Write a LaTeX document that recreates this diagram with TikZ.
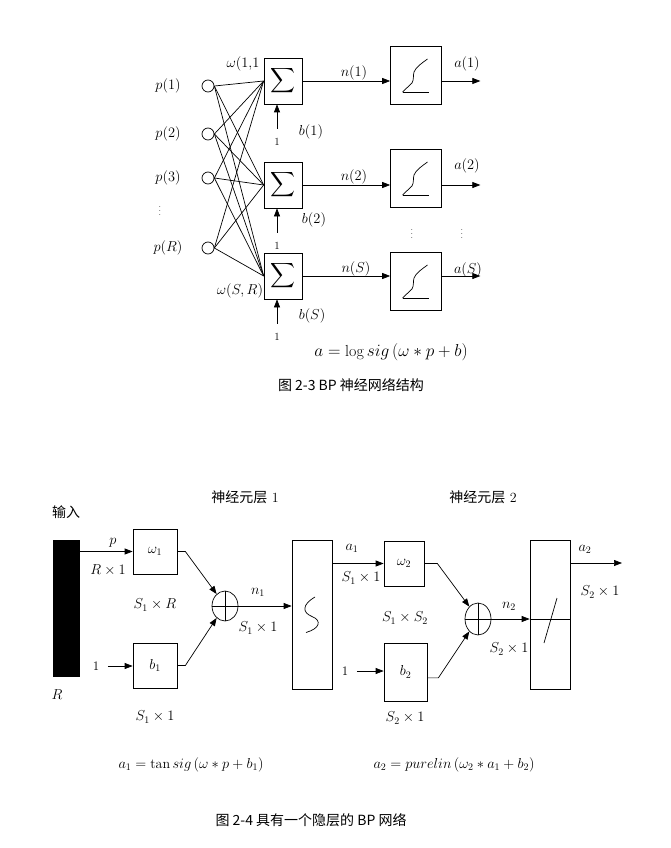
\documentclass[tikz,border=0pt]{standalone}
\usepackage{amsmath}
\usepackage{fontspec}
\newfontfamily\cjk{Noto Sans CJK SC}
\usetikzlibrary{arrows.meta, shapes.geometric, positioning, calc}

\begin{document}
\begin{tikzpicture}[
  x=1pt, y=-1pt,
  line width=0.7pt,
  every node/.style={font=\fontsize{14}{16}\selectfont},
  toplab/.style={font=\fontsize{15}{17}\selectfont},
  arr/.style={-{Triangle[length=8pt,width=6pt]}},
  incircle/.style={circle, draw, minimum size=12pt, inner sep=0pt},
  sumbox/.style={draw, minimum width=38pt, minimum height=46pt, inner sep=0pt,
    font=\fontsize{17}{19}\selectfont},
  fbox/.style={draw, minimum width=51pt, minimum height=58pt},
  wbox/.style={draw, minimum width=#1, inner sep=0pt},
  tallbox/.style={draw, minimum width=40pt, minimum height=149pt},
  plusnode/.style={ellipse, draw, minimum width=26pt, minimum height=30pt, inner sep=0pt},
  smalltxt/.style={font=\fontsize{11}{12}\selectfont, inner sep=0pt},
  dotstxt/.style={font=\fontsize{9}{10}\selectfont, inner sep=0pt},
  captext/.style={font=\cjk\fontsize{14}{16}\selectfont},
  eqtxt/.style={font=\fontsize{16}{18}\selectfont},
  eqlow/.style={font=\fontsize{14}{16}\selectfont}
]
\useasboundingbox (0,0) rectangle (670,848);

% BP network, one layer
\foreach \i/\y in {1/86, 2/134, 3/178, R/248} {
  \node[incircle] (p\i) at (208,\y) {};
  \node[toplab] (pl\i) at (168,\y) {$p(\i)$};
}
\node[dotstxt] (pdots) at (160,208) {$\vdots$};

\foreach \j/\ys/\yf/\yo in {1/81/75/142, 2/185/178/246, S/276/281/337} {
  \node[sumbox] (s\j) at (283,\ys) {$\displaystyle\sum$};
  \node[fbox] (f\j) at (416,\yf) {};
  \node[smalltxt] (one\j) at (277,\yo) {1};
  \draw[arr] (one\j.north) ++(0,-9) -- (one\j |- s\j.south);
  \draw[arr] (s\j.east) -- (s\j.east -| f\j.west);
  \path (s\j.east) ++(178,0) coordinate (o\j);
  \draw[arr] (f\j.east |- o\j) -- (o\j);
  \begin{scope}[shift={(f\j.center)}]
    \draw (-13.5,17) -- (13,17);
    \draw (-13.5,17) -- (-4,8) .. controls (-2,5) and (-3,0) .. (-2,-3)
      .. controls (0,-8) and (6,-12) .. (11.5,-16);
  \end{scope}
}
\foreach \i in {1,2,3,R}
  \foreach \j in {1,2,S}
    \draw (p\i.east) -- (s\j.west);

\node[toplab] (w11) at (243,64) {$\omega(1{,}1$};
\node[toplab] (wSR) at (240,291) {$\omega(S,R)$};
\node[toplab] (bl1) at (311,132) {$b(1)$};
\node[toplab] (bl2) at (314,220) {$b(2)$};
\node[toplab] (blS) at (312,316) {$b(S)$};
\node[toplab] (n1) at (354,73) {$n(1)$};
\node[toplab] (n2) at (354,177) {$n(2)$};
\node[toplab] (nS) at (356,269) {$n(S)$};
\node[toplab] (a1) at (467,64) {$a(1)$};
\node[toplab] (a2) at (467,166) {$a(2)$};
\node[toplab] (aS) at (468,270) {$a(S)$};
\node[dotstxt] (d1) at (412,231) {$\vdots$};
\node[dotstxt] (d2) at (462,231) {$\vdots$};

\node[eqtxt] (eqtop) at (391,352) {$a=\log sig\left(\omega*p+b\right)$};
\node[captext] (cap3) at (351,385) {图 2-3 BP 神经网络结构};

% BP network with one hidden layer
\node[captext] (inlab) at (66,512) {输入};
\node (layer1) at (245,497) {{\cjk 神经元层} 1};
\node (layer2) at (483,497) {{\cjk 神经元层} 2};

\node[fill=black, minimum width=27pt, minimum height=137pt, inner sep=0pt] (bar) at (66.5,608.5) {};
\node[wbox=44pt, minimum height=45pt] (w1) at (155,551.5) {$\omega_1$};
\node[wbox=44pt, minimum height=45pt] (b1) at (155,665.5) {$b_1$};
\node[plusnode] (sum1) at (225,606) {};
\node[tallbox] (t1) at (312,614.5) {};
\node[wbox=40pt, minimum height=45pt] (w2) at (404,563.5) {$\omega_2$};
\node[wbox=43pt, minimum height=58pt] (b2) at (405.5,672) {$b_2$};
\node[plusnode, minimum height=32pt] (sum2) at (478,619) {};
\node[tallbox] (pl) at (550,614.5) {};
\node[font=\fontsize{13}{15}\selectfont] (in1) at (96,666) {1};
\node[font=\fontsize{13}{15}\selectfont] (in2) at (345,671) {1};
\coordinate (out2) at (622,563);

\draw[arr] (bar.east |- w1) -- (w1.west);
\draw[arr] (in1.east) ++(5,0) -- (b1.west |- in1);
\draw[arr] (w1.east) -- ++(8,0) -- (sum1.125);
\draw[arr] (b1.east) -- ++(8,0) -- (sum1.235);
\draw (sum1.north) -- (sum1.south) (sum1.west) -- (sum1.east);
\draw[arr] (sum1.east) -- (t1.west |- sum1);
\draw[arr] (t1.east |- w2) -- (w2.west);
\draw[arr] (in2.east) ++(5,0) -- (b2.west |- in2);
\draw[arr] (w2.east) -- ++(13,0) -- (sum2.125);
\draw[arr] (b2.-15) -- ++(11,0) -- (sum2.235);
\draw (sum2.north) -- (sum2.south) (sum2.west) -- (sum2.east);
\draw[arr] (sum2.east) -- (pl.west |- sum2);
\draw (pl.west |- sum2) -- (pl.east |- sum2);
\draw[arr] (pl.east |- out2) -- (out2);

\begin{scope}[shift={(t1.center)}]
  \draw (3,-17.5) .. controls (-10,-10) and (-10,-2) .. (0,2)
    .. controls (10,6) and (8,14) .. (-6,18);
\end{scope}
\begin{scope}[shift={(pl.center)}]
  \draw (-6,28.5) -- (7,-16.5);
\end{scope}

\node (plab) at (113,543) {$p$};
\node (Rx1) at (108,570) {$R\times1$};
\node (w1dim) at (155,605) {$S_1\times R$};
\node (b1dim) at (155,717) {$S_1\times1$};
\node (Rlab) at (57,695) {$R$};
\node (n1lab) at (258,592) {$n_1$};
\node (n1dim) at (258,628) {$S_1\times1$};
\node (a1lab) at (352,548) {$a_1$};
\node (a1dim) at (361,578) {$S_1\times1$};
\node (w2dim) at (405,618) {$S_1\times S_2$};
\node (b2dim) at (405,718) {$S_2\times1$};
\node (n2lab) at (509,606) {$n_2$};
\node (n2dim) at (509,649) {$S_2\times1$};
\node (a2lab) at (585,549) {$a_2$};
\node (a2dim) at (600,592) {$S_2\times1$};

\node[eqlow] (eq1) at (191,765) {$a_1=\tan sig\left(\omega*p+b_1\right)$};
\node[eqlow] (eq2) at (454,765) {$a_2=purelin\left(\omega_2*a_1+b_2\right)$};
\node[captext] (cap4) at (311,820) {图 2-4 具有一个隐层的 BP 网络};
\end{tikzpicture}
\end{document}
